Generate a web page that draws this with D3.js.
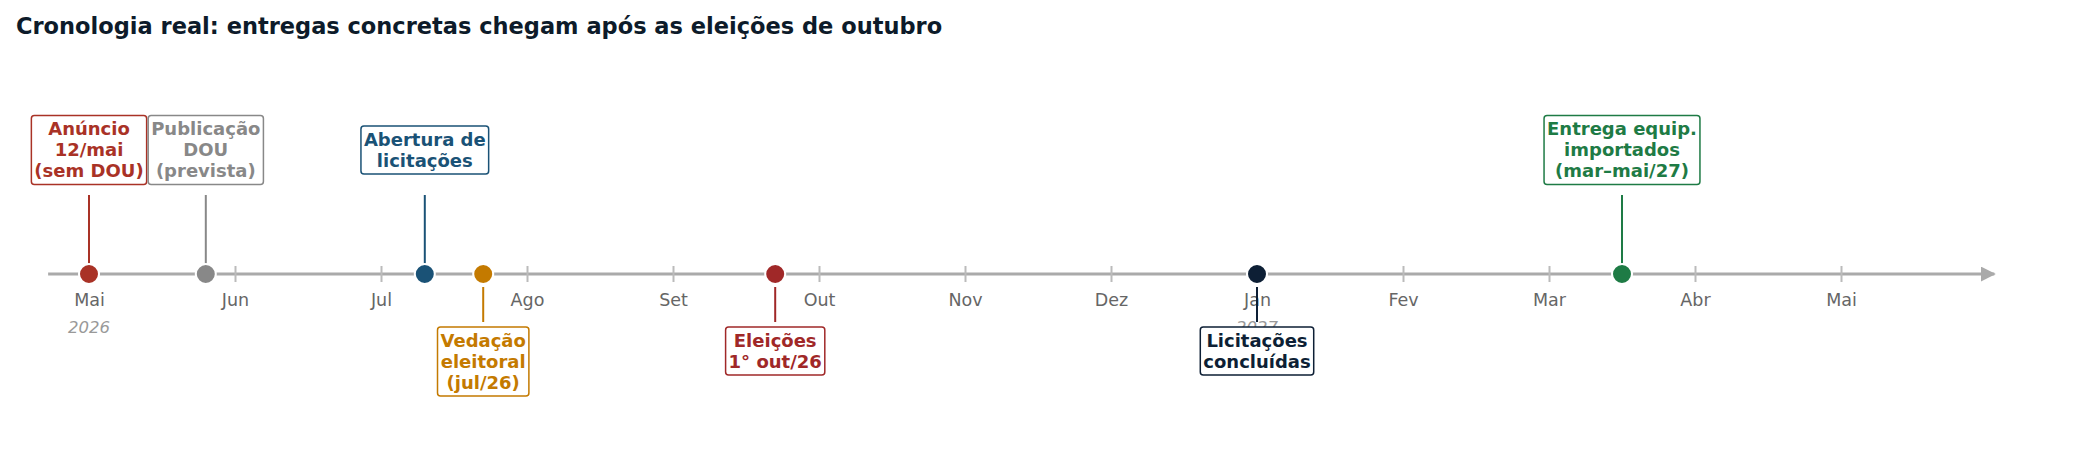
<!DOCTYPE html>
<html>
<head>
<meta charset="utf-8">
<script src="https://cdn.jsdelivr.net/npm/d3@7"></script>
<style>
  body { margin: 0; background: #fff; }
  text { font-family: "DejaVu Sans", sans-serif; }
</style>
</head>
<body>
<svg id="chart"></svg>
<script>
// month offsets from 1 May 2026
const monthTicks = [0, 1, 2, 3, 4, 5, 6, 7, 8, 9, 10, 11, 12];
const monthLabels = ['Mai', 'Jun', 'Jul', 'Ago', 'Set', 'Out', 'Nov', 'Dez', 'Jan', 'Fev', 'Mar', 'Abr', 'Mai'];
const yearLabels = [[0, '2026'], [8, '2027']];

const eventPos = [0, 0.8, 2.3, 2.7, 4.7, 8.0, 10.5];
const eventText = [
  ['Anúncio', '12/mai', '(sem DOU)'],
  ['Publicação', 'DOU', '(prevista)'],
  ['Abertura de', 'licitações'],
  ['Vedação', 'eleitoral', '(jul/26)'],
  ['Eleições', '1° out/26'],
  ['Licitações', 'concluídas'],
  ['Entrega equip.', 'importados', '(mar–mai/27)']
];
const eventSide = ['up', 'up', 'up', 'down', 'down', 'down', 'up'];
const eventColor = ['#a93226', '#888888', '#1a5276', '#c47a00', '#a02828', '#0d1f35', '#1e7b45'];

const w = 2076, h = 475;
const axisY = 274;
const svg = d3.select('#chart').attr('width', w).attr('height', h);

svg.append('text')
  .attr('x', 16).attr('y', 34)
  .attr('font-size', 22.5).attr('font-weight', 'bold')
  .attr('fill', '#0d1b2a')
  .text('Cronologia real: entregas concretas chegam após as eleições de outubro');

const x = d3.scaleLinear().domain([0, 12]).range([89, 1841]);

// main line with arrow
svg.append('defs').append('marker')
  .attr('id', 'arrow').attr('viewBox', '0 0 10 10')
  .attr('refX', 9).attr('refY', 5)
  .attr('markerWidth', 5).attr('markerHeight', 5)
  .attr('orient', 'auto')
  .append('path').attr('d', 'M0,0 L10,5 L0,10 Z').attr('fill', '#aaaaaa');

svg.append('line')
  .attr('x1', x(-0.28)).attr('x2', x(13.05))
  .attr('y1', axisY).attr('y2', axisY)
  .attr('stroke', '#aaaaaa').attr('stroke-width', 3)
  .attr('marker-end', 'url(#arrow)');

const axis = d3.axisBottom(x)
  .tickValues(monthTicks)
  .tickSize(0)
  .tickPadding(20)
  .tickFormat((d, i) => monthLabels[i]);
const gAxis = svg.append('g').attr('transform', `translate(0,${axisY})`).call(axis);
gAxis.select('.domain').remove();
gAxis.selectAll('.tick line').remove();
gAxis.selectAll('.tick').append('line')
  .attr('y1', -8).attr('y2', 8)
  .attr('stroke', '#bbbbbb').attr('stroke-width', 2);
gAxis.selectAll('.tick text')
  .attr('font-size', 17.5).attr('fill', '#666666')
  .attr('font-family', '"DejaVu Sans", sans-serif');

svg.selectAll('.year').data(yearLabels).enter().append('text')
  .attr('x', d => x(d[0])).attr('y', axisY + 59)
  .attr('text-anchor', 'middle')
  .attr('font-size', 16.5).attr('font-style', 'italic')
  .attr('fill', '#999999')
  .text(d => d[1]);

const lineH = 21;
eventPos.forEach((p, i) => {
  const cx = x(p);
  const col = eventColor[i];
  const lines = eventText[i];
  const up = eventSide[i] === 'up';
  // stem
  svg.append('line')
    .attr('x1', cx).attr('x2', cx)
    .attr('y1', up ? 195 : axisY + 13)
    .attr('y2', up ? axisY - 10 : axisY + 48)
    .attr('stroke', col).attr('stroke-width', 2);
  // label
  const n = lines.length;
  let centerY;
  if (up) centerY = 150;
  else centerY = axisY + 53 + (n * lineH + 6) / 2;
  const g = svg.append('g');
  const rect = g.append('rect');
  const t = g.append('text')
    .attr('text-anchor', 'middle')
    .attr('font-size', 18).attr('font-weight', 'bold')
    .attr('fill', col);
  lines.forEach((l, j) => {
    t.append('tspan')
      .attr('x', cx)
      .attr('y', centerY + (j - (n - 1) / 2) * lineH + 6)
      .text(l);
  });
  const bb = t.node().getBBox();
  rect.attr('x', bb.x - 3).attr('y', centerY - (n * lineH) / 2 - 3)
    .attr('width', bb.width + 6).attr('height', n * lineH + 6)
    .attr('rx', 3)
    .attr('fill', '#fff').attr('stroke', col).attr('stroke-width', 1.5);
  // dot
  svg.append('circle')
    .attr('cx', cx).attr('cy', axisY).attr('r', 10)
    .attr('fill', col).attr('stroke', '#fff').attr('stroke-width', 2);
});
</script>
</body>
</html>
